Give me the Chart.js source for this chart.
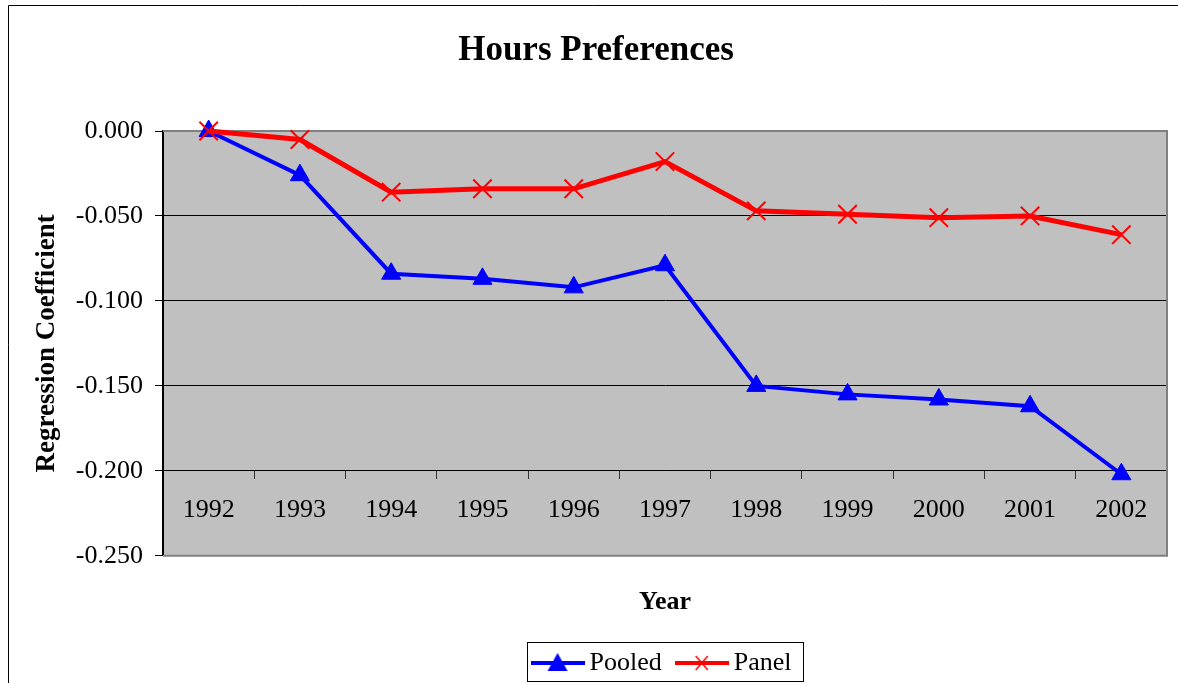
<!DOCTYPE html>
<html>
<head>
<meta charset="utf-8">
<script src="https://cdn.jsdelivr.net/npm/chart.js@4.4.1/dist/chart.umd.min.js"></script>
<style>
  html, body { margin: 0; padding: 0; background: #fff; }
  canvas { display: block; }
</style>
</head>
<body>
<canvas id="c" width="1178" height="683"></canvas>
<script>
// ---- data ----
const years = ['1992', '1993', '1994', '1995', '1996', '1997', '1998', '1999', '2000', '2001', '2002'];
const pooled = [0.000, -0.026, -0.084, -0.087, -0.092, -0.079, -0.150, -0.155, -0.158, -0.162, -0.202];
const panel = [0.000, -0.005, -0.036, -0.034, -0.034, -0.018, -0.047, -0.049, -0.051, -0.050, -0.061];
const yTicks = [-0.25, -0.20, -0.15, -0.10, -0.05, 0.00];
const seriesNames = ['Pooled', 'Panel'];
const titleText = 'Hours Preferences';
const xTitle = 'Year';
const yTitle = 'Regression Coefficient';

Chart.defaults.font.family = "'Liberation Serif', 'Times New Roman', serif";
Chart.defaults.color = '#000';

// legend icons: line + marker
function makeIcon(kind) {
  const cv = document.createElement('canvas');
  cv.width = 54; cv.height = 26;
  const g = cv.getContext('2d');
  g.lineCap = 'butt';
  if (kind === 'tri') {
    g.strokeStyle = '#0000ff'; g.lineWidth = 4;
    g.beginPath(); g.moveTo(0, 13); g.lineTo(54, 13); g.stroke();
    g.fillStyle = '#0000ff';
    g.beginPath(); g.moveTo(27, 3); g.lineTo(37, 21); g.lineTo(17, 21); g.closePath(); g.fill();
  } else {
    g.strokeStyle = '#ff0000'; g.lineWidth = 4;
    g.beginPath(); g.moveTo(0, 13); g.lineTo(54, 13); g.stroke();
    g.lineWidth = 1.5;
    g.beginPath(); g.moveTo(21, 6); g.lineTo(33, 20); g.moveTo(33, 6); g.lineTo(21, 20); g.stroke();
  }
  return cv;
}
const legendIcons = [makeIcon('tri'), makeIcon('x')];

const decoPlugin = {
  id: 'deco',
  beforeDraw(chart) {
    const {ctx, chartArea: a} = chart;
    ctx.save();
    ctx.fillStyle = '#fff';
    ctx.fillRect(0, 0, chart.width, chart.height);
    ctx.fillStyle = '#c0c0c0';
    ctx.fillRect(a.left, a.top, a.right - a.left, a.bottom - a.top);
    ctx.strokeStyle = '#000'; ctx.lineWidth = 1;
    ctx.beginPath();
    ctx.moveTo(8.5, chart.height); ctx.lineTo(8.5, 5.5); ctx.lineTo(chart.width, 5.5);
    ctx.stroke();
    ctx.restore();
  },
  beforeDatasetsDraw(chart) {
    const {ctx, chartArea: a} = chart;
    ctx.save();
    ctx.strokeStyle = '#808080'; ctx.lineWidth = 2;
    ctx.beginPath();
    ctx.moveTo(a.left, a.top); ctx.lineTo(a.right, a.top); ctx.lineTo(a.right, a.bottom); ctx.lineTo(a.left, a.bottom);
    ctx.stroke();
    ctx.restore();
  },
  afterDraw(chart) {
    const hb = chart.legend && chart.legend.legendHitBoxes;
    if (!hb || !hb.length) return;
    const first = hb[0], last = hb[hb.length - 1];
    const cy = first.top + first.height / 2;
    const ctx = chart.ctx;
    ctx.save();
    ctx.strokeStyle = '#000'; ctx.lineWidth = 1;
    const l = Math.round(first.left - 12) + 0.5;
    const r = Math.round(last.left + last.width + 12) + 0.5;
    const t = Math.round(cy - 21) + 0.5;
    const b = Math.round(cy + 18) + 0.5;
    ctx.strokeRect(l, t, r - l, b - t);
    ctx.restore();
  }
};

new Chart(document.getElementById('c'), {
  type: 'line',
  data: {
    labels: years,
    datasets: [
      {
        label: seriesNames[0], data: pooled,
        borderColor: '#0000ff', backgroundColor: '#0000ff', borderWidth: 4,
        pointStyle: 'triangle', pointRadius: 11, pointBorderWidth: 1,
        pointBackgroundColor: '#0000ff', pointBorderColor: '#0000ff',
        tension: 0, clip: false, order: 1
      },
      {
        label: seriesNames[1], data: panel,
        borderColor: '#ff0000', backgroundColor: '#ff0000', borderWidth: 5,
        pointStyle: 'crossRot', pointRadius: 13, pointBorderWidth: 2,
        pointBackgroundColor: '#ff0000', pointBorderColor: '#ff0000',
        tension: 0, clip: false, order: 0
      }
    ]
  },
  options: {
    responsive: false,
    animation: false,
    events: [],
    layout: { autoPadding: false, padding: { left: 25, right: 11, top: 0, bottom: -3 } },
    plugins: {
      title: {
        display: true, text: titleText, color: '#000',
        font: { size: 35, weight: 'bold' },
        padding: { top: 30, bottom: 59 }
      },
      legend: {
        position: 'bottom', fullSize: false,
        labels: {
          usePointStyle: true, pointStyleWidth: 38, padding: 21,
          font: { size: 26 }, color: '#000',
          generateLabels(chart) {
            const items = Chart.defaults.plugins.legend.labels.generateLabels(chart);
            items.sort((a, b) => a.datasetIndex - b.datasetIndex);
            items.forEach(it => { it.pointStyle = legendIcons[it.datasetIndex]; it.fontColor = '#000'; });
            return items;
          }
        }
      },
      tooltip: { enabled: false }
    },
    scales: {
      x: {
        type: 'category', offset: true,
        position: { y: -0.2 },
        grid: { offset: true, drawOnChartArea: false, drawTicks: true, tickLength: 8, color: '#000', tickColor: '#333' },
        border: { display: true, color: '#000', width: 1 },
        ticks: { font: { size: 26 }, color: '#000', padding: 16, maxRotation: 0, autoSkip: false },
        afterFit(s) { s.height = 0; s.paddingLeft = 0; s.paddingRight = 0; }
      },
      x2: {
        type: 'category', labels: years, position: 'bottom', offset: true,
        ticks: { display: false },
        grid: { display: false, drawTicks: false },
        border: { display: false },
        title: { display: true, text: xTitle, color: '#000', font: { size: 26, weight: 'bold' }, padding: { top: 31, bottom: 11 } },
        afterFit(s) { s.paddingLeft = 0; s.paddingRight = 0; }
      },
      y: {
        min: -0.25, max: 0,
        afterBuildTicks(s) { s.ticks = yTicks.map(v => ({ value: v })); },
        ticks: { callback: v => Number(v).toFixed(3), font: { size: 26 }, color: '#000', padding: 12 },
        grid: {
          color: c => (c.tick && (Math.abs(c.tick.value) < 1e-9 || Math.abs(c.tick.value + 0.25) < 1e-9)) ? 'rgba(0,0,0,0)' : '#000',
          lineWidth: 1, tickLength: 8, tickColor: '#000', drawTicks: true
        },
        border: { display: true, color: '#000', width: 2 },
        title: { display: true, text: yTitle, color: '#000', font: { size: 27, weight: 'bold' }, padding: { top: 6, bottom: 0 } },
        afterFit(s) { s.width = 138; }
      }
    }
  },
  plugins: [decoPlugin]
});
</script>
</body>
</html>
